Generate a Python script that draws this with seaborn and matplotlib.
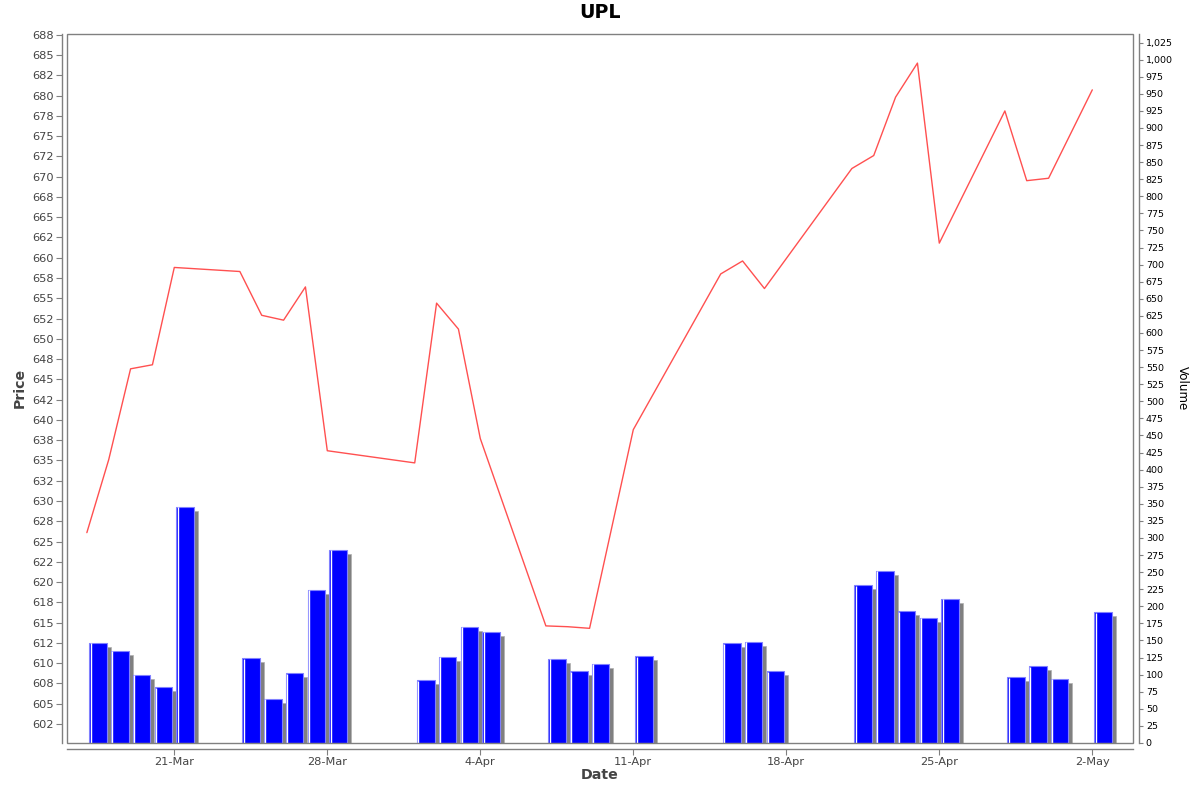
import pandas as pd
import numpy as np
import matplotlib
matplotlib.use("Agg")
import matplotlib.pyplot as plt
import matplotlib.dates as mdates
from matplotlib.ticker import FuncFormatter, FixedLocator
from matplotlib.patches import Rectangle
import seaborn as sns

sns.set_theme(style="white")
plt.rcParams['font.family'] = ['DejaVu Sans']

# Data
dates = ['2022-03-17', '2022-03-18', '2022-03-19', '2022-03-20', '2022-03-21',
         '2022-03-24', '2022-03-25', '2022-03-26', '2022-03-27', '2022-03-28',
         '2022-04-01', '2022-04-02', '2022-04-03', '2022-04-04',
         '2022-04-07', '2022-04-08', '2022-04-09', '2022-04-11',
         '2022-04-15', '2022-04-16', '2022-04-17',
         '2022-04-21', '2022-04-22', '2022-04-23', '2022-04-24', '2022-04-25',
         '2022-04-28', '2022-04-29', '2022-04-30', '2022-05-02']
price = [626.1, 635.1, 646.3, 646.8, 658.8,
         658.3, 652.9, 652.3, 656.4, 636.2,
         634.7, 654.4, 651.2, 637.7,
         614.6, 614.5, 614.3, 638.8,
         658.0, 659.6, 656.2,
         671.0, 672.6, 679.8, 684.0, 661.8,
         678.1, 669.5, 669.8, 680.7]
volume = [147, 135, 100, 82, 346,
          124, 65, 102, 224, 283,
          92, 126, 170, 163,
          123, 105, 116, 127,
          146, 148, 105,
          231, 252, 193, 183, 211,
          96, 112, 94, 191]

df = pd.DataFrame({'Date': pd.to_datetime(dates), 'Price': price, 'Volume': volume})
xnum = mdates.date2num(df['Date'])

fig = plt.figure(figsize=(12, 7.92), dpi=100)
ax = fig.add_axes([67.3 / 1200, 1 - 743 / 792, (1133.3 - 67.3) / 1200, (743 - 34.3) / 792])
ax2 = ax.twinx()

# volume bars (right axis) with shadow
px_day = 153 / 7.0
bar_w = 0.81
shadow_dx = 4 / px_day
shadow_dy = 4 / 0.6829
ax2.bar(xnum + 0.5 + shadow_dx, np.array(volume) - shadow_dy, width=bar_w,
        color='#808080', edgecolor='#b0b0b0', linewidth=0.5, zorder=1)
ax2.bar(xnum + 0.5, volume, width=bar_w, color='#0000ff',
        edgecolor='#8080ff', linewidth=0.8, zorder=2)
ax2.vlines(xnum + 0.5 - bar_w / 2 + 1.6 / px_day, 0, np.array(volume) - 0.8,
           color='white', linewidth=1.0, zorder=3)

# price line (left axis)
sns.lineplot(data=df, x='Date', y='Price', ax=ax, color='#ff5050', linewidth=1.0)
ax.set_zorder(ax2.get_zorder() + 1)
ax.patch.set_visible(False)

x0 = mdates.date2num(pd.Timestamp('2022-03-21'))
ax.set_xlim(x0 - 4.895, x0 + 43.876)
ax.set_ylim(600.16, 687.55)
ax2.set_ylim(0, 1037)

# ticks
ax.xaxis.set_major_locator(mdates.WeekdayLocator(byweekday=mdates.MO))
ax.xaxis.set_major_formatter(mdates.DateFormatter('%-d-%b'))
ax.yaxis.set_major_locator(FixedLocator(np.arange(602.5, 688, 2.5)))
ax.yaxis.set_major_formatter(FuncFormatter(lambda v, p: f"{v:.0f}"))
ax2.yaxis.set_major_locator(FixedLocator(np.arange(0, 1026, 25)))
ax2.yaxis.set_major_formatter(FuncFormatter(lambda v, p: f"{int(round(v)):,}"))

ax.tick_params(axis='y', which='major', left=True, length=4, width=0.8, color='#808080',
               pad=2, labelsize=8.2, labelcolor='#444444')
ax.tick_params(axis='x', which='major', bottom=True, length=4, width=0.8, color='#808080',
               pad=2, labelsize=8.2, labelcolor='#444444')
ax2.tick_params(axis='y', which='major', right=True, length=3, width=0.8, color='#808080',
                pad=2, labelsize=6.8, labelcolor='#000000')
ax.set_xlabel('')
ax.set_ylabel('')
ax2.set_ylabel('')

for a in (ax, ax2):
    for s in a.spines.values():
        s.set_visible(False)
ax.spines['left'].set_visible(True)
ax.spines['left'].set_position(('outward', 4))
ax.spines['bottom'].set_visible(True)
ax.spines['bottom'].set_position(('outward', 4))
ax2.spines['right'].set_visible(True)
ax2.spines['right'].set_position(('outward', 4))
for s in (ax.spines['left'], ax.spines['bottom'], ax2.spines['right']):
    s.set_color('#808080')
    s.set_linewidth(1.0)

# plot frame
ax.add_patch(Rectangle((0, 0), 1, 1, transform=ax.transAxes, fill=False,
                       edgecolor='#808080', linewidth=1.0, clip_on=False, zorder=10))

fig.text(0.5, 1 - 13 / 792, 'UPL', ha='center', va='center', fontsize=13.7,
         fontweight='bold', color='black')
fig.text(600 / 1200, 1 - 775 / 792, 'Date', ha='center', va='center', fontsize=10.2,
         fontweight='bold', color='#444444')
fig.text(20 / 1200, 1 - 388 / 792, 'Price', ha='center', va='center', fontsize=10.2,
         fontweight='bold', color='#444444', rotation=90)
fig.text(1182 / 1200, 1 - 388 / 792, 'Volume', ha='center', va='center', fontsize=8.6,
         color='black', rotation=-90)

fig.savefig('out.png', dpi=100)
